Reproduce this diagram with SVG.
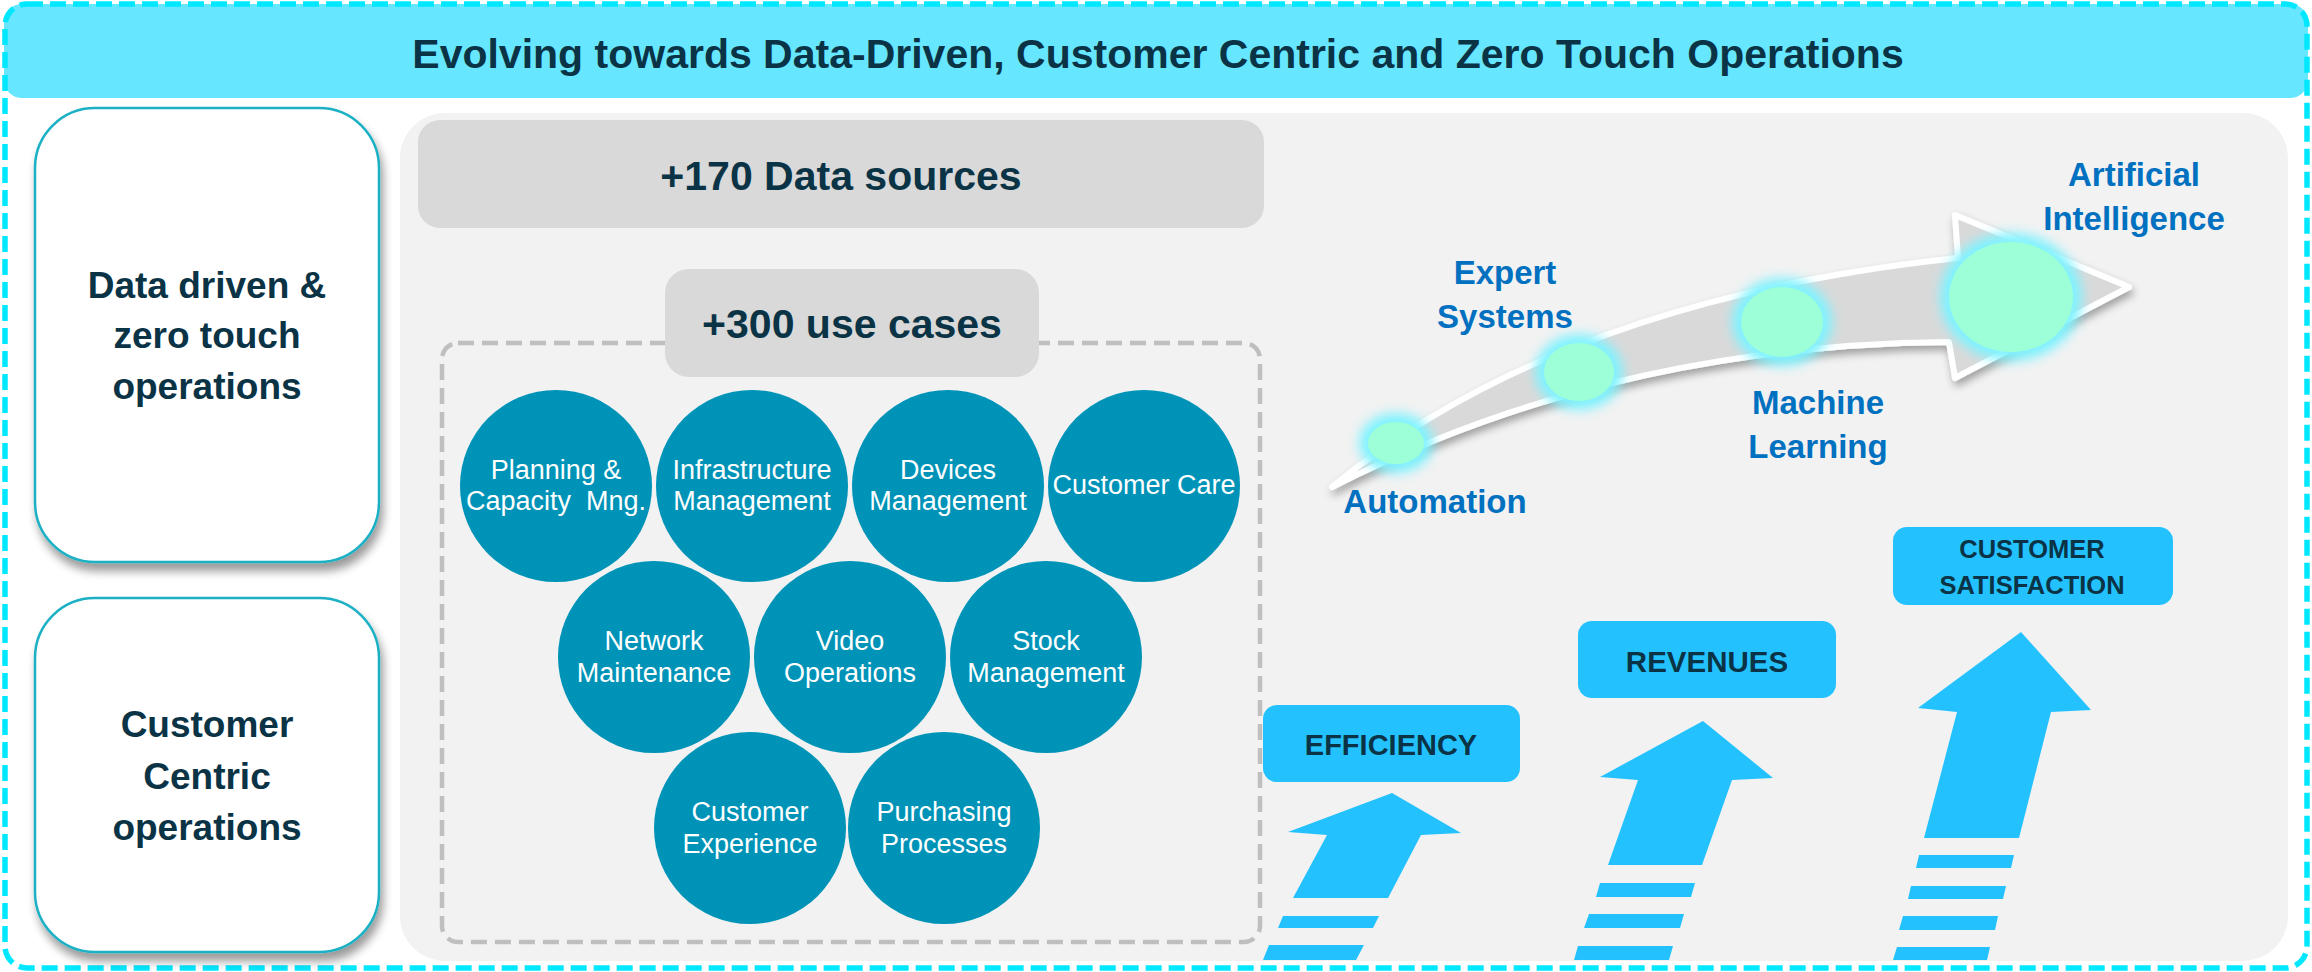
<svg xmlns="http://www.w3.org/2000/svg" width="2312" height="972" viewBox="0 0 2312 972">
<defs>
<filter id="boxShadow" x="-10%" y="-10%" width="130%" height="130%">
<feGaussianBlur in="SourceAlpha" stdDeviation="5"/>
<feOffset dx="3" dy="8" result="off"/>
<feComponentTransfer><feFuncA type="linear" slope="0.4"/></feComponentTransfer>
<feMerge><feMergeNode/><feMergeNode in="SourceGraphic"/></feMerge>
</filter>
<filter id="arrowShadow" x="-10%" y="-20%" width="130%" height="150%">
<feGaussianBlur in="SourceAlpha" stdDeviation="4"/>
<feOffset dx="2" dy="5" result="off"/>
<feComponentTransfer><feFuncA type="linear" slope="0.35"/></feComponentTransfer>
<feMerge><feMergeNode/><feMergeNode in="SourceGraphic"/></feMerge>
</filter>
<filter id="glow" x="-50%" y="-50%" width="200%" height="200%">
<feGaussianBlur stdDeviation="6"/>
</filter>
</defs>
<style>
.dark{fill:#0B3346;font-family:"Liberation Sans",Arial,sans-serif;font-weight:bold;text-anchor:middle}
.ct{fill:#FFFFFF;font-family:"Liberation Sans",Arial,sans-serif;font-size:27px;text-anchor:middle;white-space:pre}
.lbl{fill:#0070C0;font-family:"Liberation Sans",Arial,sans-serif;font-weight:bold;font-size:33px;text-anchor:middle}
.uc{fill:#0093B8}
.leftbox{fill:#FFFFFF;stroke:#1AB0C4;stroke-width:2.5}
.graybox{fill:#D9D9D9}
.bluebox{fill:#23C2FF}
.up{fill:#23C2FF}
.halo{fill:#7FF3FF;filter:url(#glow)}
.mint{fill:#9CFFD8}
</style>

<rect x="4" y="4" width="2304" height="94" rx="18" fill="#66E7FF"/>
<rect x="400" y="113" width="1888" height="848" rx="45" fill="#F2F2F2"/>
<rect x="5" y="4" width="2302" height="964" rx="22" fill="none" stroke="#00E8FF" stroke-width="5.5" stroke-dasharray="16 7"/>
<text class="dark" x="1158" y="68" font-size="41">Evolving towards Data-Driven, Customer Centric and Zero Touch Operations</text>

<g id="left-data-driven" filter="url(#boxShadow)">
<rect class="leftbox" x="35" y="108" width="344" height="454" rx="60"/>
</g>
<g id="left-data-driven-text">
<text class="dark" font-size="37" x="207" y="298">Data driven &amp;</text>
<text class="dark" font-size="37" x="207" y="348">zero touch</text>
<text class="dark" font-size="37" x="207" y="399">operations</text>
</g>
<g id="left-customer-centric" filter="url(#boxShadow)">
<rect class="leftbox" x="35" y="598" width="344" height="354" rx="60"/>
</g>
<g id="left-customer-centric-text">
<text class="dark" font-size="37" x="207" y="737">Customer</text>
<text class="dark" font-size="37" x="207" y="789">Centric</text>
<text class="dark" font-size="37" x="207" y="840">operations</text>
</g>

<g id="data-sources">
<rect class="graybox" x="418" y="120" width="846" height="108" rx="22"/>
<text class="dark" font-size="41" x="841" y="190">+170 Data sources</text>
</g>

<g id="use-cases-frame">
<rect x="442" y="343" width="818" height="599" rx="16" fill="none" stroke="#BFBFBF" stroke-width="4.5" stroke-dasharray="16 8"/>
</g>
<g id="use-cases">
<rect class="graybox" x="665" y="269" width="374" height="108" rx="24"/>
<text class="dark" font-size="41" x="852" y="338">+300 use cases</text>
</g>

<g id="uc-planning"><circle class="uc" cx="556" cy="486" r="96"/><text class="ct" x="556" y="479">Planning &amp;</text><text class="ct" x="556" y="510" xml:space="preserve">Capacity  Mng.</text></g>
<g id="uc-infrastructure"><circle class="uc" cx="752" cy="486" r="96"/><text class="ct" x="752" y="479">Infrastructure</text><text class="ct" x="752" y="510">Management</text></g>
<g id="uc-devices"><circle class="uc" cx="948" cy="486" r="96"/><text class="ct" x="948" y="479">Devices</text><text class="ct" x="948" y="510">Management</text></g>
<g id="uc-customer-care"><circle class="uc" cx="1144" cy="486" r="96"/><text class="ct" x="1144" y="494">Customer Care</text></g>
<g id="uc-network"><circle class="uc" cx="654" cy="657" r="96"/><text class="ct" x="654" y="650">Network</text><text class="ct" x="654" y="682">Maintenance</text></g>
<g id="uc-video"><circle class="uc" cx="850" cy="657" r="96"/><text class="ct" x="850" y="650">Video</text><text class="ct" x="850" y="682">Operations</text></g>
<g id="uc-stock"><circle class="uc" cx="1046" cy="657" r="96"/><text class="ct" x="1046" y="650">Stock</text><text class="ct" x="1046" y="682">Management</text></g>
<g id="uc-cx"><circle class="uc" cx="750" cy="828" r="96"/><text class="ct" x="750" y="821">Customer</text><text class="ct" x="750" y="853">Experience</text></g>
<g id="uc-purchasing"><circle class="uc" cx="944" cy="828" r="96"/><text class="ct" x="944" y="821">Purchasing</text><text class="ct" x="944" y="853">Processes</text></g>

<g id="evolution-arrow" filter="url(#arrowShadow)">
<path d="M1332,487 Q1560,300 1958,258 L1955,215 L2129,287 L1955,378 L1949,342 Q1610,345 1332,487 Z" fill="#D9D9D9" stroke="#FFFFFF" stroke-width="6" stroke-linejoin="round"/>
</g>
<g id="stage-automation"><ellipse class="halo" cx="1396" cy="443" rx="37" ry="30"/><ellipse class="mint" cx="1396" cy="443" rx="28" ry="21"/><text class="lbl" x="1435" y="513">Automation</text></g>
<g id="stage-expert"><ellipse class="halo" cx="1579" cy="372" rx="44" ry="38"/><ellipse class="mint" cx="1579" cy="372" rx="35" ry="29"/><text class="lbl" x="1505" y="284">Expert</text><text class="lbl" x="1505" y="328">Systems</text></g>
<g id="stage-ml"><ellipse class="halo" cx="1782" cy="322" rx="50" ry="44"/><ellipse class="mint" cx="1782" cy="322" rx="41" ry="35"/><text class="lbl" x="1818" y="414">Machine</text><text class="lbl" x="1818" y="458">Learning</text></g>
<g id="stage-ai"><ellipse class="halo" cx="2011" cy="297" rx="71" ry="64"/><ellipse class="mint" cx="2011" cy="297" rx="62" ry="55"/><text class="lbl" x="2134" y="186">Artificial</text><text class="lbl" x="2134" y="230">Intelligence</text></g>

<g id="efficiency">
<rect class="bluebox" x="1263" y="705" width="257" height="77" rx="14"/>
<text class="dark" font-size="29" x="1391" y="755">EFFICIENCY</text>
<polygon class="up" points="1392,793 1461,833 1421,835 1388,898 1293,898 1327,835 1288,832"/>
<polygon class="up" points="1283,916 1379,916 1373,928 1278,928"/>
<polygon class="up" points="1269,945 1364,945 1356,960 1263,960"/>
</g>
<g id="revenues">
<rect class="bluebox" x="1578" y="621" width="258" height="77" rx="14"/>
<text class="dark" font-size="29.5" x="1707" y="672">REVENUES</text>
<polygon class="up" points="1703,721 1773,778 1732,780 1702,865 1608,865 1638,780 1600,777"/>
<polygon class="up" points="1600,883 1695,883 1691,897 1596,897"/>
<polygon class="up" points="1589,914 1684,914 1680,928 1584,928"/>
<polygon class="up" points="1578,946 1673,946 1669,960 1574,960"/>
</g>
<g id="customer-satisfaction">
<rect class="bluebox" x="1893" y="527" width="280" height="78" rx="14"/>
<text class="dark" font-size="25.5" x="2032" y="558">CUSTOMER</text>
<text class="dark" font-size="25.5" x="2032" y="594">SATISFACTION</text>
<polygon class="up" points="2021,632 2091,710 2051,712 2019,838 1924,838 1957,712 1918,708"/>
<polygon class="up" points="1919,855 2014,855 2011,868 1916,868"/>
<polygon class="up" points="1911,886 2006,886 2003,899 1908,899"/>
<polygon class="up" points="1903,916 1998,916 1995,930 1899,930"/>
<polygon class="up" points="1897,947 1990,947 1987,960 1893,960"/>
</g>
<g id="connectors"></g>
</svg>
